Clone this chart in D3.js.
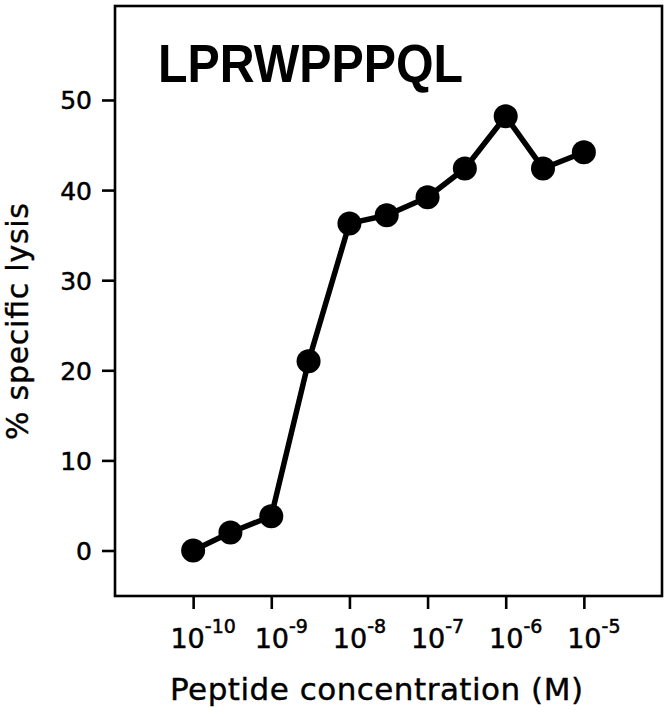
<!DOCTYPE html>
<html><head><meta charset="utf-8">
<script src="https://cdn.jsdelivr.net/npm/d3@7"></script>
<style>body{margin:0;background:#fff}</style>
</head><body>
<svg id="chart" width="670" height="720"></svg>
<script>
const concentrations = [1e-10, 3e-10, 1e-9, 3e-9, 1e-8, 3e-8, 1e-7, 3e-7, 1e-6, 3e-6, 1e-5];
const lysis = [0, 2.0, 3.8, 21.0, 36.3, 37.2, 39.2, 42.4, 48.2, 42.4, 44.2];
const xTickValues = [1e-10, 1e-9, 1e-8, 1e-7, 1e-6, 1e-5];
const xTickExponents = ["-10", "-9", "-8", "-7", "-6", "-5"];
const yTickValues = [0, 10, 20, 30, 40, 50];
const titleText = "LPRWPPPQL";
const xLabel = "Peptide concentration (M)";
const yLabel = "% specific lysis";

const svg = d3.select("#chart");
const L = 115, R = 662, T = 6, B = 596;
const x = d3.scaleLog().domain([1e-11, 1e-4]).range([L, R]);
const y = d3.scaleLinear().domain([-5.05, 60.43]).range([B, T]);

const sans = "'DejaVu Sans', sans-serif";

// frame
svg.append("rect").attr("x", L).attr("y", T).attr("width", R - L).attr("height", B - T)
  .attr("fill", "none").attr("stroke", "#000").attr("stroke-width", 2.6);

// y axis ticks
const yAxis = svg.append("g").attr("transform", `translate(${L},0)`)
  .call(d3.axisLeft(y).tickValues(yTickValues).tickSize(13).tickPadding(10).tickFormat(d3.format("d")));
yAxis.select(".domain").remove();
yAxis.selectAll(".tick line").attr("stroke", "#000").attr("stroke-width", 2.6);
yAxis.selectAll(".tick text").attr("font-family", sans).attr("font-size", 25).attr("fill", "#000")
  .attr("stroke", "#000").attr("stroke-width", 0.5).attr("dy", "0.36em");

// x axis ticks
const xAxis = svg.append("g").attr("transform", `translate(0,${B})`)
  .call(d3.axisBottom(x).tickValues(xTickValues).tickSize(13).tickFormat(() => ""));
xAxis.select(".domain").remove();
xAxis.selectAll(".tick line").attr("stroke", "#000").attr("stroke-width", 2.6);
xAxis.selectAll(".tick text").remove();

// x tick labels with superscripts
const xl = svg.append("g");
xTickValues.forEach((v, i) => {
  const t = xl.append("text").attr("x", x(v) + 10).attr("y", 648)
    .attr("text-anchor", "middle").attr("font-family", sans).attr("font-size", 27)
    .attr("fill", "#000").attr("stroke", "#000").attr("stroke-width", 0.5);
  t.append("tspan").text("10");
  t.append("tspan").attr("dy", -15).attr("font-size", 19).text(xTickExponents[i]);
});

// line and points
const data = concentrations.map((c, i) => ({c, v: lysis[i]}));
svg.append("path").datum(data)
  .attr("d", d3.line().x(d => x(d.c)).y(d => y(d.v)))
  .attr("fill", "none").attr("stroke", "#000").attr("stroke-width", 5.5).attr("stroke-linejoin", "round");
svg.append("g").selectAll("circle").data(data).join("circle")
  .attr("cx", d => x(d.c)).attr("cy", d => y(d.v)).attr("r", 12).attr("fill", "#000");

// title
svg.append("text").attr("x", 158).attr("y", 82)
  .attr("font-family", "'Liberation Sans', Arial, sans-serif").attr("font-weight", "bold")
  .attr("font-size", 53).attr("textLength", 305).attr("lengthAdjust", "spacingAndGlyphs")
  .attr("fill", "#000").text(titleText);

// axis labels
svg.append("text").attr("x", 170).attr("y", 700)
  .attr("font-family", sans).attr("font-size", 31).attr("textLength", 413)
  .attr("fill", "#000").attr("stroke", "#000").attr("stroke-width", 0.4).text(xLabel);
svg.append("text").attr("transform", "translate(28,440) rotate(-90)")
  .attr("font-family", sans).attr("font-size", 30).attr("textLength", 237)
  .attr("fill", "#000").attr("stroke", "#000").attr("stroke-width", 0.4).text(yLabel);
</script>
</body></html>
